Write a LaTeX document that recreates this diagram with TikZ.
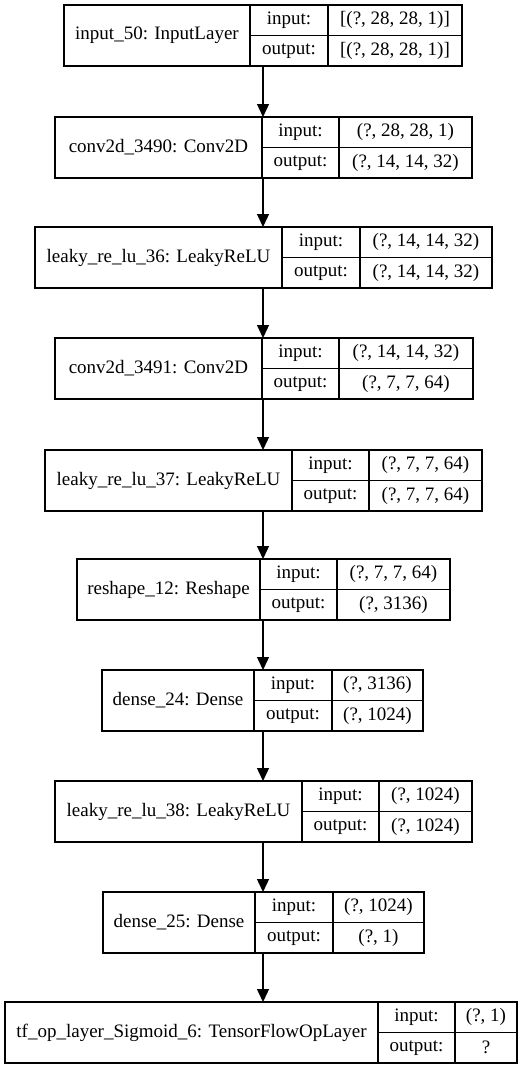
\documentclass[tikz,border=0pt]{standalone}
\usepackage{fontspec}
\setmainfont{Liberation Serif}
\usetikzlibrary{fit,arrows.meta}

% One Keras layer record: name, top, left, divider 1, divider 2, right, label, input shape, output shape
\newcommand{\kerasLayer}[9]{%
  \node[layerbox, fit={(#3,-#2) (#6,-#2-61)}] (#1) {};
  \draw[cellline] (#4,-#2) -- (#4,-#2-61);
  \draw[cellline] (#5,-#2) -- (#5,-#2-61);
  \draw[cellline] (#4,-#2-30.5) -- (#6,-#2-30.5);
  \node[celltext] (#1-label) at ({(#3+#4)/2},-#2-30.5) {#7};
  \node[celltext] (#1-inkey) at ({(#4+#5)/2},-#2-15.25) {input:};
  \node[celltext] (#1-outkey) at ({(#4+#5)/2},-#2-45.75) {output:};
  \node[celltext] (#1-inval) at ({(#5+#6)/2},-#2-15.25) {#8};
  \node[celltext] (#1-outval) at ({(#5+#6)/2},-#2-45.75) {#9};
}

\begin{document}
\begin{tikzpicture}[x=1pt,y=1pt,
  layerbox/.style={draw=black, line width=1.33pt, inner sep=0pt, outer sep=0pt, rectangle},
  cellline/.style={draw=black, line width=1.33pt},
  celltext/.style={inner sep=0pt, font=\fontsize{19}{22}\selectfont, anchor=center},
  flow/.style={draw=black, line width=1.33pt, -{Triangle[length=13pt,width=12pt]}}]
  \fill[white] (0,0) rectangle (527,-1069);
  \useasboundingbox (0,0) rectangle (527,-1069);

  \kerasLayer{l1}{5}{64}{250}{328}{462}{input\_50: InputLayer}{[(?, 28, 28, 1)]}{[(?, 28, 28, 1)]}
  \kerasLayer{l2}{117}{55}{262}{339}{472}{conv2d\_3490: Conv2D}{(?, 28, 28, 1)}{(?, 14, 14, 32)}
  \kerasLayer{l3}{227}{35}{282}{360}{492}{leaky\_re\_lu\_36: LeakyReLU}{(?, 14, 14, 32)}{(?, 14, 14, 32)}
  \kerasLayer{l4}{338}{55}{262}{339}{473}{conv2d\_3491: Conv2D}{(?, 14, 14, 32)}{(?, 7, 7, 64)}
  \kerasLayer{l5}{450}{45}{292}{369}{482}{leaky\_re\_lu\_37: LeakyReLU}{(?, 7, 7, 64)}{(?, 7, 7, 64)}
  \kerasLayer{l6}{559}{77}{260}{337}{450}{reshape\_12: Reshape}{(?, 7, 7, 64)}{(?, 3136)}
  \kerasLayer{l7}{670}{102}{254}{332}{423}{dense\_24: Dense}{(?, 3136)}{(?, 1024)}
  \kerasLayer{l8}{781}{55}{302}{379}{472}{leaky\_re\_lu\_38: LeakyReLU}{(?, 1024)}{(?, 1024)}
  \kerasLayer{l9}{892}{103}{255}{333}{424}{dense\_25: Dense}{(?, 1024)}{(?, 1)}
  \kerasLayer{l10}{1002}{5}{378}{455}{517}{tf\_op\_layer\_Sigmoid\_6: TensorFlowOpLayer}{(?, 1)}{?}

  % straight vertical edges between consecutive layers
  \coordinate (axis) at (263,0);
  \foreach \a/\b in {l1/l2,l2/l3,l3/l4,l4/l5,l5/l6,l6/l7,l7/l8,l8/l9,l9/l10}
    \draw[flow] (axis |- \a.south) -- (axis |- \b.north);
\end{tikzpicture}
\end{document}
